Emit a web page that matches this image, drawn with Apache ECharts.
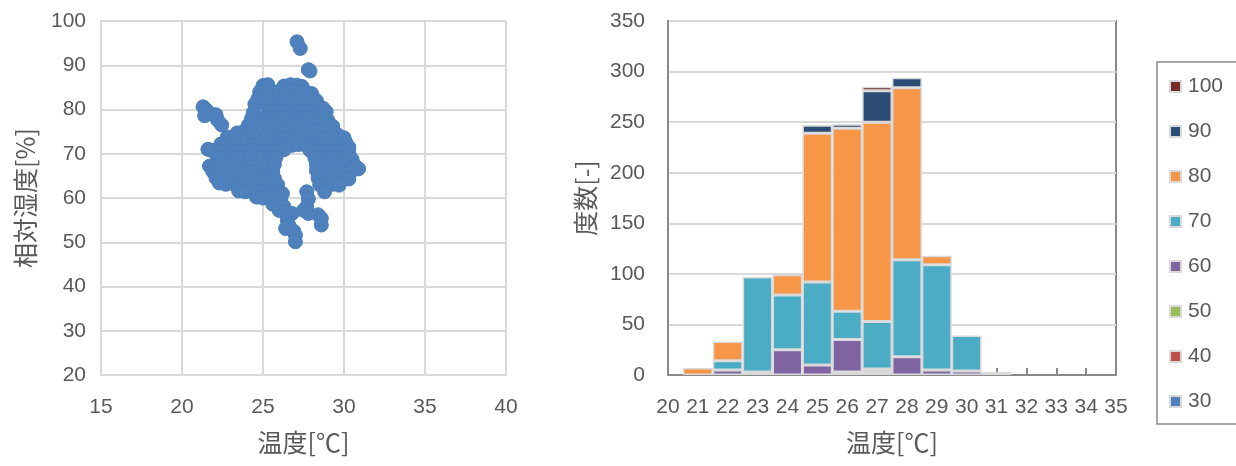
<!DOCTYPE html>
<html><head><meta charset="utf-8">
<script src="https://cdn.jsdelivr.net/npm/echarts@6/dist/echarts.min.js"></script>
<style>html,body{margin:0;padding:0;background:#fff}#c{width:1236px;height:466px}</style>
</head><body><div id="c"></div>
<script>
// ---- Scatter: temperature [°C], relative humidity [%] ----
const scatterPoints = [
  [27.1,95.3],[27.3,93.8],[27.8,89.0],[27.9,88.7],
  [25.0,85.4],[25.3,85.6],[26.3,85.3],[26.7,85.6],[27.1,85.5],[27.4,85.2],
  [24.8,84.0],[25.2,84.0],[25.6,83.8],[26.0,84.1],[26.4,84.0],[26.8,84.2],[27.2,84.0],[27.6,84.1],[28.0,83.6],
  [24.7,82.5],[25.1,82.3],[25.5,82.6],[25.9,82.4],[26.3,82.7],[26.7,82.5],[27.1,82.3],[27.5,82.6],[27.9,82.4],[28.3,82.0],
  [24.5,81.2],[25.2,81.0],[25.6,81.2],[26.0,80.9],[26.4,81.1],[26.8,81.0],[27.2,81.2],[27.6,80.9],[28.0,81.1],[28.4,80.7],[28.7,80.3],
  [24.4,79.3],[25.4,79.5],[25.8,79.7],[26.2,79.4],[26.6,79.6],[27.0,79.3],[27.4,79.5],[27.8,79.6],[28.2,79.4],[28.6,79.2],[28.9,79.5],
  [21.3,80.6],[21.5,79.9],[21.4,78.6],[21.8,79.0],[22.1,78.8],[22.2,77.6],[22.45,76.5],
  [24.3,78.0],[24.7,78.2],[25.1,77.9],[25.5,78.1],[25.9,78.0],[26.3,78.2],[26.7,77.9],[27.1,78.1],[27.5,78.0],[27.9,78.2],[28.3,77.9],[28.7,78.1],[29.0,77.6],
  [24.1,76.5],[24.5,76.7],[24.9,76.4],[25.3,76.6],[25.7,76.5],[26.1,76.7],[26.5,76.4],[26.9,76.6],[27.3,76.5],[27.7,76.7],[28.1,76.4],[28.5,76.6],[28.9,76.5],[29.3,76.2],
  [23.4,74.7],[23.8,75.0],[24.2,75.2],[24.6,74.9],[25.0,75.1],[25.4,75.0],[25.8,75.2],[26.2,74.9],[26.6,75.1],[27.0,75.0],[27.4,75.2],[27.8,74.9],[28.2,75.1],[28.6,75.0],[29.0,75.2],[29.4,74.8],[29.6,74.3],
  [22.8,73.8],[23.2,73.5],[23.6,73.7],[24.0,73.4],[24.4,73.6],[24.8,73.5],[25.2,73.7],[25.6,73.4],[26.0,73.6],[26.4,73.5],[26.8,73.7],[27.2,73.4],[27.6,73.6],[28.0,73.5],[28.4,73.7],[28.8,73.4],[29.2,73.6],[29.6,73.3],[30.0,73.6],[30.1,72.6],
  [22.4,72.2],[22.8,72.0],[23.2,72.2],[23.6,71.9],[24.0,72.1],[24.4,72.0],[24.8,72.2],[25.2,71.9],[25.6,72.1],[26.0,72.0],[26.4,72.2],[26.8,71.9],[27.2,72.1],[27.6,72.0],[28.0,72.2],[28.4,71.9],[28.8,72.1],[29.2,72.0],[29.6,72.2],[30.0,71.8],[30.3,71.5],
  [21.6,71.0],[21.8,70.8],
  [22.3,70.5],[22.7,70.7],[23.1,70.4],[23.5,70.6],[23.9,70.5],[24.3,70.7],[24.7,70.4],[25.1,70.6],[25.5,70.5],[25.9,70.7],[26.3,70.9],[27.9,70.8],[28.3,70.4],[28.7,70.6],[29.1,70.5],[29.5,70.7],[29.9,70.4],[30.3,70.2],
  [22.2,69.0],[22.6,69.2],[23.0,68.9],[23.4,69.1],[23.8,69.0],[24.2,69.2],[24.6,68.9],[25.0,69.1],[25.4,69.0],[25.8,69.2],[28.2,69.0],[28.6,69.2],[29.0,68.9],[29.4,69.1],[29.8,69.0],[30.2,69.2],[30.5,68.7],
  [21.7,67.2],[22.1,67.5],[22.5,67.7],[22.9,67.4],[23.3,67.6],[23.7,67.5],[24.1,67.7],[24.5,67.4],[25.3,67.5],[25.7,67.6],[28.3,67.5],[28.7,67.7],[29.1,67.4],[29.5,67.6],[29.9,67.5],[30.3,67.7],[30.7,67.2],[30.9,66.6],
  [21.9,66.0],[22.3,66.2],[22.7,65.9],[23.1,66.1],[23.5,66.0],[23.9,66.2],[24.3,65.9],[25.2,66.1],[25.6,66.0],[28.3,66.2],[28.7,65.9],[29.1,66.1],[29.5,66.0],[29.9,66.2],[30.3,65.9],[30.6,66.4],
  [22.1,64.5],[22.5,64.7],[23.3,64.4],[23.7,64.6],[24.1,64.5],[24.5,64.7],[24.9,64.4],[25.3,64.6],[25.7,64.5],[28.4,64.5],[28.8,64.7],[29.2,64.4],[29.6,64.6],[30.0,64.5],[30.3,64.3],
  [22.3,63.4],[22.7,63.1],[23.1,63.3],[23.5,62.9],[23.9,63.1],[24.3,63.0],[24.7,63.2],[25.1,62.9],[25.5,63.1],[25.9,63.0],[28.5,63.0],[28.9,62.8],[29.3,63.1],[29.7,62.9],
  [23.5,61.6],[23.9,61.4],[24.3,61.6],[24.7,61.3],[25.1,61.5],[25.5,61.2],[25.9,61.4],[26.2,61.0],[27.7,61.4],[28.8,61.4],
  [24.6,60.2],[25.0,60.0],[25.4,59.8],[25.8,60.0],[26.1,59.5],
  [25.6,58.6],[26.0,58.3],[26.3,58.0],
  [26.0,57.2],[26.4,56.8],[26.8,56.5],
  [26.5,55.0],[26.6,53.8],[26.4,53.1],[26.9,52.5],[27.0,51.6],[27.0,50.1],
  [27.8,59.8],[27.7,58.0],[27.5,57.2],[27.8,56.5],[28.4,56.2],[28.6,55.4],[28.6,53.9]
];
const scatterXTicks = [15, 40, 5];   // min, max, interval
const scatterYTicks = [20, 100, 10];

// ---- Histogram: counts by temperature bin, stacked by humidity class ----
const histCategories = ['20','21','22','23','24','25','26','27','28','29','30','31','32','33','34','35'];
const h30  = [0,0,0,0,0,0,0,0,0,0,0,0,0,0,0,0];
const h40  = [0,0,0,0,0,0,0,0,0,0,0,0,0,0,0,0];
const h50  = [0,0,0,0,0,0,3,3,0,0,0,0,0,0,0,0];
const h60  = [0,0,5,3,25,10,32,3,18,5,4,0,0,0,0,0];
const h70  = [0,0,9,94,54,82,28,47,96,104,35,3,0,0,0,0];
const h80  = [0,7,19,0,20,147,181,197,170,9,0,0,0,0,0,0];
const h90  = [0,0,0,0,0,8,4,31,10,0,0,0,0,0,0,0];
const h100 = [0,0,0,0,0,0,0,4,0,0,0,0,0,0,0,0];
const histNames = ['30','40','50','60','70','80','90','100'];
const histColors = ['#4f81bd','#c0504d','#9bbb59','#8064a2','#4bacc6','#f79646','#2c4d75','#772c2a'];
const histYTicks = [0, 350, 50];

const histSeriesData = [h30,h40,h50,h60,h70,h80,h90,h100];

const labelFont = {fontFamily:'Liberation Sans, Arial, sans-serif', fontSize:21, color:'#595959'};
const nameFont = {fontFamily:'"Noto Sans CJK JP", sans-serif', fontSize:25, color:'#595959'};

const chart = echarts.init(document.getElementById('c'), null, {renderer:'canvas'});
chart.setOption({
  animation:false,
  backgroundColor:'#ffffff',
  grid:[
    {left:101, top:21, width:405, height:354, containLabel:false},
    {left:668, top:21, width:448, height:354, containLabel:false, show:true, borderColor:'#898989', borderWidth:2, backgroundColor:'transparent'}
  ],
  legend:{
    data:histNames.slice().reverse(),
    orient:'vertical', left:1157, top:62,
    padding:[14,15,12,12], itemGap:24,
    itemWidth:11, itemHeight:11, icon:'rect',
    borderColor:'#898989', borderWidth:1.5,
    textStyle:Object.assign({}, labelFont, {padding:[0,0,0,2]})
  },
  xAxis:[
    {gridIndex:0, type:'value', min:scatterXTicks[0], max:scatterXTicks[1], interval:scatterXTicks[2],
     axisLine:{show:true, lineStyle:{color:'#d9d9d9', width:2}}, axisTick:{show:false},
     splitLine:{show:true, lineStyle:{color:'#d9d9d9', width:2}},
     axisLabel:Object.assign({margin:22}, labelFont),
     name:'温度[℃]', nameLocation:'middle', nameGap:55, nameTextStyle:nameFont},
    {gridIndex:1, type:'category', data:histCategories, boundaryGap:false,
     axisLine:{show:true, lineStyle:{color:'#898989', width:2}},
     axisTick:{show:true, inside:true, length:7, interval:0, lineStyle:{color:'#898989', width:2}},
     splitLine:{show:false},
     axisLabel:Object.assign({margin:22, interval:0}, labelFont),
     name:'温度[℃]', nameLocation:'middle', nameGap:55, nameTextStyle:nameFont}
  ],
  yAxis:[
    {gridIndex:0, type:'value', min:scatterYTicks[0], max:scatterYTicks[1], interval:scatterYTicks[2],
     axisLine:{show:true, lineStyle:{color:'#d9d9d9', width:2}}, axisTick:{show:false},
     splitLine:{show:true, lineStyle:{color:'#d9d9d9', width:2}},
     axisLabel:Object.assign({margin:15}, labelFont),
     name:'相対湿度[%]', nameLocation:'middle', nameGap:63, nameTextStyle:nameFont},
    {gridIndex:1, type:'value', min:histYTicks[0], max:histYTicks[1], interval:histYTicks[2],
     axisLine:{show:true, lineStyle:{color:'#898989', width:2}}, axisTick:{show:false},
     splitLine:{show:true, lineStyle:{color:'#d9d9d9', width:2}},
     axisLabel:Object.assign({margin:23}, labelFont),
     name:'度数[-]', nameLocation:'middle', nameGap:70, nameTextStyle:nameFont}
  ],
  series:[
    {type:'scatter', xAxisIndex:0, yAxisIndex:0, data:scatterPoints, symbolSize:14,
     itemStyle:{color:'#4f81bd', borderColor:'#4a7ebb', borderWidth:1, opacity:1}, z:3}
  ].concat(histNames.map((n,i)=>({
    type:'bar', name:n, xAxisIndex:1, yAxisIndex:1, stack:'h',
    barCategoryGap:'0%', barGap:'0%',
    data:histSeriesData[i].map(v => v === 0 ? null : v),
    itemStyle:{color:histColors[i], borderColor:'#d9d9d9', borderWidth:1.5},
    emphasis:{disabled:true}
  })))
});
</script>
</body></html>
